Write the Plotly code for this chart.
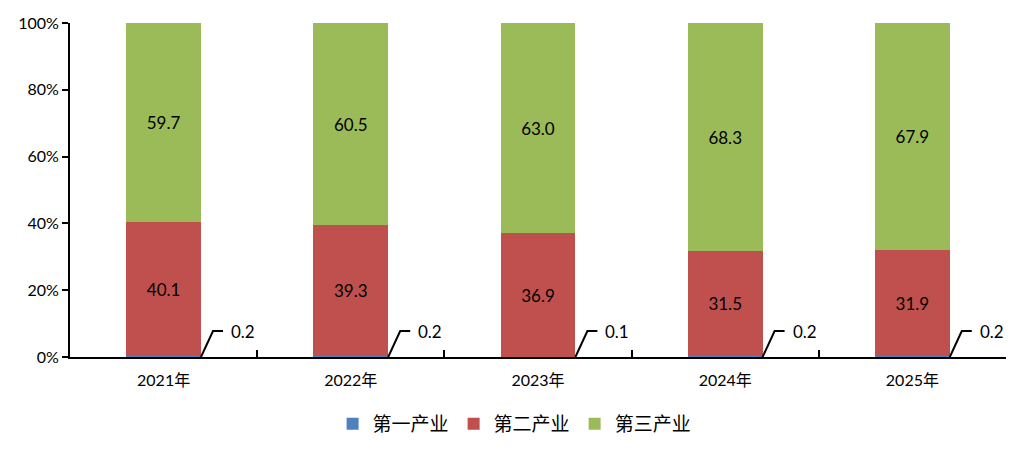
import plotly.graph_objects as go

years = ["2021年", "2022年", "2023年", "2024年", "2025年"]
primary = [0.2, 0.2, 0.1, 0.2, 0.2]
secondary = [40.1, 39.3, 36.9, 31.5, 31.9]
tertiary = [59.7, 60.5, 63.0, 68.3, 67.9]
pct_ticks = [0, 20, 40, 60, 80, 100]
pct_labels = ["0%", "20%", "40%", "60%", "80%", "100%"]

SERIES = [
    ("第一产业", primary, "#4F81BD"),
    ("第二产业", secondary, "#C0504D"),
    ("第三产业", tertiary, "#9BBB59"),
]

NUM_FONT = "Lato, 'Noto Sans', sans-serif"
CJK_FONT = "'Noto Sans CJK SC', sans-serif"

# page body has an 8px margin, so the figure is a bit smaller than the window
W, H = 1022, 451
M_L, M_R, M_T, M_B = 62, 24, 15, 102
BAR_FRAC = 0.4

fig = go.Figure()
for name, vals, color in SERIES:
    show_text = name != "第一产业"
    fig.add_trace(
        go.Bar(
            x=years,
            y=vals,
            name=name,
            marker=dict(color=color, line=dict(width=0)),
            text=[f"{v:.1f}" for v in vals] if show_text else None,
            textposition="inside" if show_text else "none",
            insidetextanchor="middle",
            textfont=dict(family=NUM_FONT, size=17, color="black"),
            width=BAR_FRAC,
            hoverinfo="skip",
        )
    )

# callout labels for the tiny first-sector share
cat_px = (W - M_L - M_R) / len(years)
half_bar = BAR_FRAC * cat_px / 2
for yr, v in zip(years, primary):
    fig.add_shape(
        type="path",
        xref="x",
        yref="y",
        xsizemode="pixel",
        ysizemode="pixel",
        xanchor=yr,
        yanchor=0,
        path=f"M {half_bar:.1f},0 L {half_bar + 12:.1f},26 L {half_bar + 22:.1f},26",
        line=dict(color="black", width=2),
    )
    fig.add_annotation(
        x=yr,
        y=0,
        xref="x",
        yref="y",
        text=f"{v:.1f}",
        showarrow=False,
        xanchor="left",
        yanchor="middle",
        xshift=half_bar + 28,
        yshift=26,
        font=dict(family=NUM_FONT, size=17, color="black"),
    )

fig.update_layout(
    width=W,
    height=H,
    barmode="stack",
    bargap=0.6,
    plot_bgcolor="white",
    paper_bgcolor="white",
    margin=dict(l=M_L, r=M_R, t=M_T, b=M_B),
    showlegend=True,
    legend=dict(
        orientation="h",
        traceorder="normal",
        x=0.475,
        xanchor="center",
        y=-0.2,
        yanchor="middle",
        font=dict(family=CJK_FONT, size=19, color="black"),
        itemclick=False,
        itemwidth=30,
    ),
    xaxis=dict(
        showline=True,
        linecolor="black",
        linewidth=2,
        ticks="inside",
        tickson="boundaries",
        ticklen=7,
        tickwidth=2,
        tickcolor="black",
        ticklabelstandoff=8,
        tickfont=dict(family=f"{NUM_FONT}, {CJK_FONT}", size=16, color="black"),
        showgrid=False,
        automargin=False,
    ),
    yaxis=dict(
        range=[0, 100],
        tickmode="array",
        tickvals=pct_ticks,
        ticktext=pct_labels,
        showline=True,
        linecolor="black",
        linewidth=2,
        ticks="outside",
        ticklen=6,
        tickwidth=2,
        tickcolor="black",
        tickfont=dict(family=NUM_FONT, size=16, color="black"),
        showgrid=False,
        zeroline=False,
        automargin=False,
    ),
)

fig.write_html("out.html")
